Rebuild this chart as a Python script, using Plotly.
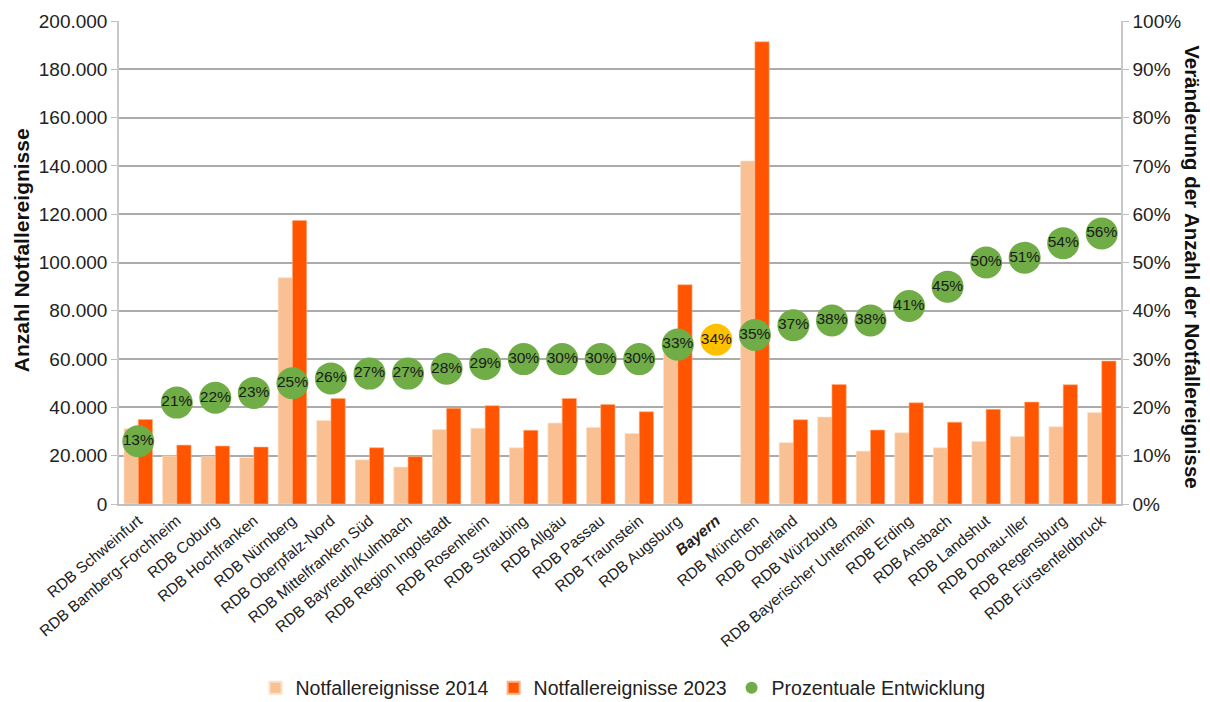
import plotly.graph_objects as go

categories = ["RDB Schweinfurt", "RDB Bamberg-Forchheim", "RDB Coburg", "RDB Hochfranken",
              "RDB Nürnberg", "RDB Oberpfalz-Nord", "RDB Mittelfranken Süd", "RDB Bayreuth/Kulmbach",
              "RDB Region Ingolstadt", "RDB Rosenheim", "RDB Straubing", "RDB Allgäu", "RDB Passau",
              "RDB Traunstein", "RDB Augsburg", "Bayern", "RDB München", "RDB Oberland",
              "RDB Würzburg", "RDB Bayerischer Untermain", "RDB Erding", "RDB Ansbach",
              "RDB Landshut", "RDB Donau-Iller", "RDB Regensburg", "RDB Fürstenfeldbruck"]
tick_labels = [("<b><i>Bayern</i></b>" if c == "Bayern" else c) for c in categories]

values_2014 = [31200, 19900, 19600, 19200, 93700, 34600, 18300, 15300, 30800, 31400, 23300,
               33500, 31700, 29200, 68300, None, 142000, 25400, 36000, 21900, 29500, 23300,
               25900, 27900, 32000, 37900]
values_2023 = [35000, 24400, 24000, 23600, 117400, 43700, 23300, 19600, 39600, 40700, 30500,
               43700, 41200, 38200, 90800, None, 191400, 34900, 49500, 30600, 41900, 33900,
               39200, 42200, 49400, 59200]
pct_change = [13, 21, 22, 23, 25, 26, 27, 27, 28, 29, 30, 30, 30, 30, 33, 34, 35, 37, 38, 38,
              41, 45, 50, 51, 54, 56]

pct = [p / 100 for p in pct_change]
bubble_colors = ["#FFC000" if c == "Bayern" else "#70AD47" for c in categories]
font_family = "Liberation Sans, Arial, sans-serif"

fig = go.Figure()
fig.add_trace(go.Bar(x=categories, y=values_2014, name="Notfallereignisse 2014",
                     marker=dict(color="#F9C193", line=dict(color="#FCE0C8", width=0.6))))
fig.add_trace(go.Bar(x=categories, y=values_2023, name="Notfallereignisse 2023",
                     marker=dict(color="#FF5500", line=dict(color="#FFB080", width=0.6))))
fig.add_trace(go.Scatter(x=categories, y=pct, yaxis="y2", mode="markers+text",
                         name="Prozentuale Entwicklung",
                         marker=dict(size=32, color=bubble_colors),
                         text=[f"{p}%" for p in pct_change], textposition="middle center",
                         textfont=dict(size=15.5, color="#1a1a1a", family=font_family)))

fig.update_layout(
    width=1202, height=694,
    margin=dict(l=111, r=89, t=13, b=198, autoexpand=False),
    plot_bgcolor="white", paper_bgcolor="white",
    separators=",.",
    barmode="group", bargap=0.26, bargroupgap=0,
    font=dict(family=font_family, size=19, color="#222222"),
    showlegend=True,
    legend=dict(orientation="h", x=0.503, xanchor="center", y=-0.381, yanchor="middle",
                font=dict(size=19.5, color="#222222"), itemsizing="constant",
                traceorder="normal"),
    xaxis=dict(tickmode="array", tickvals=categories, ticktext=tick_labels, tickangle=-40,
               range=[-0.5, len(categories) - 0.5], automargin=False,
               tickfont=dict(size=15.5, color="#222222"), showline=True, linecolor="#BFBFBF",
               linewidth=1.5, showgrid=False, ticks=""),
    yaxis=dict(range=[0, 200000], dtick=20000, tickformat=",d", showgrid=True, automargin=False,
               gridcolor="#ABABAB", gridwidth=1.5, showline=True, linecolor="#C8C8C8",
               linewidth=1.5, ticks="outside", ticklen=6, tickcolor="#BFBFBF",
               tickfont=dict(size=19, color="#222222"), zeroline=False),
    yaxis2=dict(range=[0, 1], dtick=0.1, tickformat=".0%", overlaying="y", side="right",
                automargin=False,
                showgrid=False, showline=True, linecolor="#C8C8C8", linewidth=1.5,
                ticks="outside", ticklen=6, tickcolor="#BFBFBF",
                tickfont=dict(size=19, color="#222222"), zeroline=False),
    annotations=[
        dict(text="<b>Anzahl Notfallereignisse</b>", xref="paper", yref="paper",
             x=-0.097, y=0.525, xanchor="center", yanchor="middle", showarrow=False,
             textangle=-90, font=dict(size=21, color="#111111")),
        dict(text="<b>Veränderung der Anzahl der Notfallereignisse</b>", xref="paper",
             yref="paper", x=1.072, y=0.49, xanchor="center", yanchor="middle",
             showarrow=False, textangle=90, font=dict(size=20.5, color="#111111")),
    ],
)

fig.write_html("out.html")
